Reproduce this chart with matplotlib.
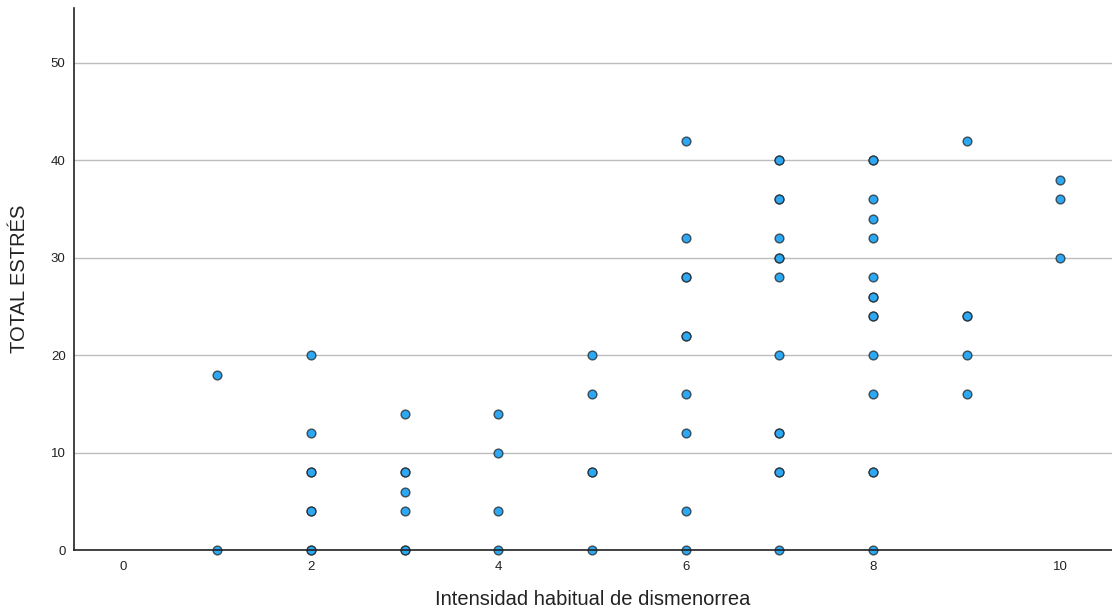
import matplotlib
matplotlib.use("Agg")
import matplotlib.pyplot as plt

plt.rcParams['font.family'] = ['Liberation Sans', 'DejaVu Sans']

# Intensidad habitual de dismenorrea (x) vs TOTAL ESTRÉS (y)
intensidad = [1, 1,
              2, 2, 2, 2, 2, 2, 2, 2,
              3, 3, 3, 3, 3, 3, 3,
              4, 4, 4, 4,
              5, 5, 5, 5, 5,
              6, 6, 6, 6, 6, 6, 6, 6, 6, 6,
              7, 7, 7, 7, 7, 7, 7, 7, 7, 7, 7, 7, 7, 7,
              8, 8, 8, 8, 8, 8, 8, 8, 8, 8, 8, 8, 8, 8, 8,
              9, 9, 9, 9, 9,
              10, 10, 10]
estres = [18, 0,
          20, 12, 8, 8, 4, 4, 0, 0,
          14, 8, 8, 6, 4, 0, 0,
          14, 10, 4, 0,
          20, 16, 8, 8, 0,
          42, 32, 28, 28, 22, 22, 16, 12, 4, 0,
          40, 40, 36, 36, 32, 30, 30, 28, 20, 12, 12, 8, 8, 0,
          40, 40, 36, 34, 32, 28, 26, 26, 24, 24, 20, 16, 8, 8, 0,
          42, 24, 24, 20, 16,
          38, 36, 30]

fig = plt.figure(figsize=(11.12, 6.12), dpi=100)
ax = fig.add_axes([0.0665, 0.101, 0.9335, 0.886])

ax.scatter(intensidad, estres, s=40, color="#2ea8f2",
           edgecolors=(0.1, 0.1, 0.1, 0.7), linewidths=1.0,
           zorder=3, clip_on=False)

ax.set_xlim(-0.53, 10.55)
ax.set_ylim(0, 55.6)
ax.set_xticks([0, 2, 4, 6, 8, 10])
ax.set_yticks([0, 10, 20, 30, 40, 50])
ax.tick_params(axis="both", length=0, labelsize=9.5, colors="#222222", pad=8)
ax.tick_params(axis="y", pad=6)

ax.yaxis.grid(True, color="#bdbdbd", linewidth=1)
ax.set_axisbelow(True)
for side in ["top", "right"]:
    ax.spines[side].set_visible(False)
for side in ["left", "bottom"]:
    ax.spines[side].set_color("#222222")
    ax.spines[side].set_linewidth(1.2)
    ax.spines[side].set_zorder(4)

ax.set_xlabel("Intensidad habitual de dismenorrea", fontsize=14.5,
              color="#222222", labelpad=12)
ax.set_ylabel("TOTAL ESTRÉS", fontsize=14.5, color="#222222", labelpad=16)

fig.savefig("out.png", dpi=100)
